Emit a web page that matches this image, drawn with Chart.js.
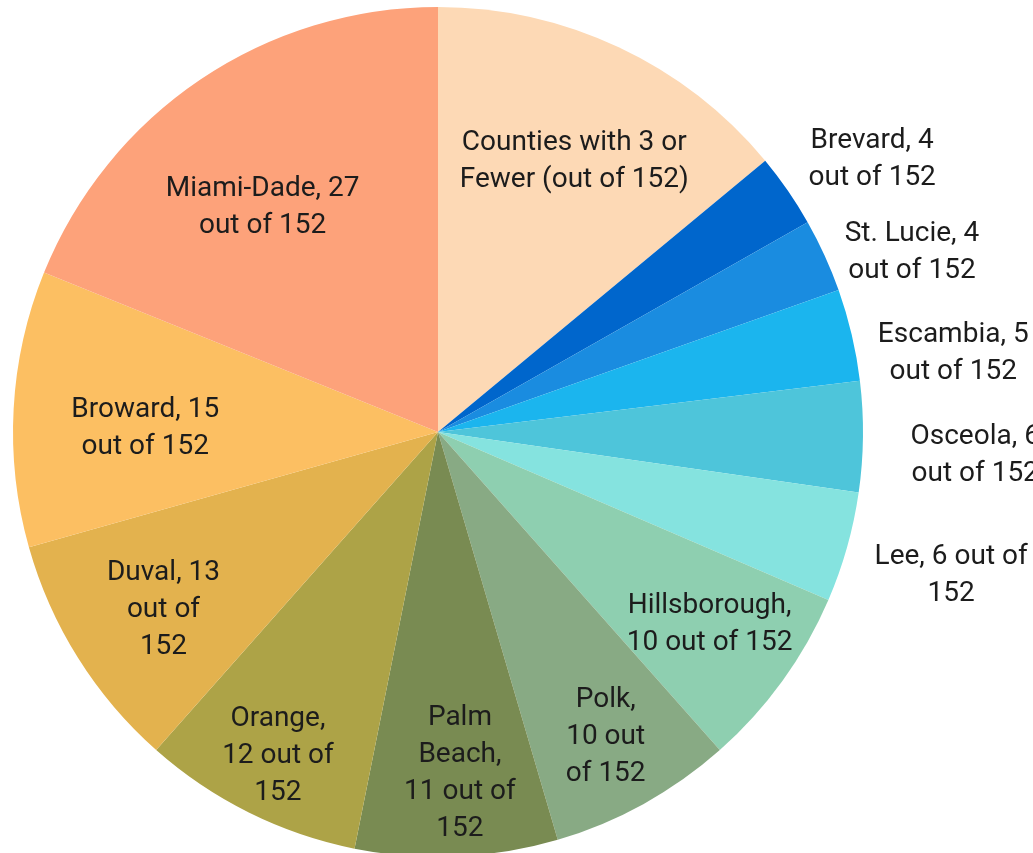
<!DOCTYPE html>
<html>
<head>
<meta charset="utf-8">
<script src="https://cdn.jsdelivr.net/npm/chart.js@4"></script>
<style>
    html, body { margin: 0; padding: 0; background: #fff; overflow: hidden; }
    #wrap { position: relative; width: 1033px; height: 857px; }
</style>
</head>
<body>
<div id="wrap"><canvas id="pieChart"></canvas></div>
<script>
// slices, clockwise from 12 o'clock
const counties = ['Counties with 3 or Fewer', 'Brevard', 'St. Lucie', 'Escambia', 'Osceola', 'Lee',
    'Hillsborough', 'Polk', 'Palm Beach', 'Orange', 'Duval', 'Broward', 'Miami-Dade'];
const counts = [20, 4, 4, 5, 6, 6, 10, 10, 11, 12, 13, 15, 27];
const labelLines = [
    ['Counties with 3 or', 'Fewer (out of 152)'],
    ['Brevard, 4', 'out of 152'],
    ['St. Lucie, 4', 'out of 152'],
    ['Escambia, 5', 'out of 152'],
    ['Osceola, 6', 'out of 152'],
    ['Lee, 6 out of', '152'],
    ['Hillsborough,', '10 out of 152'],
    ['Polk,', '10 out', 'of 152'],
    ['Palm', 'Beach,', '11 out of', '152'],
    ['Orange,', '12 out of', '152'],
    ['Duval, 13', 'out of', '152'],
    ['Broward, 15', 'out of 152'],
    ['Miami-Dade, 27', 'out of 152']
];

// styling
const sliceColors = ['#fdd9b5', '#0066cc', '#1a8ce0', '#1bb5ee', '#4ec5da', '#85e3df',
    '#8ecfb0', '#88aa84', '#798b52', '#ada347', '#e3b24e', '#fcbf62', '#fda27a'];
const labelDist = [0.715, 1.207, 1.195, 1.226, 1.264, 1.252, 0.78, 0.815, 0.8, 0.846, 0.768, 0.69, 0.675];
const labelNudge = [[7, 3], [12, 17], [12, 29], [8, 39], [0, 16], [1, -3], [3, -4], [0, 0], [7, 0], [0, 0], [2, 3], [0, 11], [-15, 11]];

const sliceLabels = {
    id: 'sliceLabels',
    afterDatasetsDraw(chart) {
        const ctx = chart.ctx;
        const meta = chart.getDatasetMeta(0);
        ctx.save();
        ctx.font = '28px Roboto';
        ctx.fillStyle = '#1c1c1c';
        ctx.textAlign = 'center';
        ctx.textBaseline = 'middle';
        const lh = 37;
        meta.data.forEach(function (arc, i) {
            const p = arc.getProps(['x', 'y', 'startAngle', 'endAngle', 'outerRadius'], true);
            const mid = (p.startAngle + p.endAngle) / 2;
            const d = p.outerRadius * labelDist[i];
            const cx = p.x + Math.cos(mid) * d + labelNudge[i][0];
            const cy = p.y + Math.sin(mid) * d + labelNudge[i][1] + 2;
            const lines = labelLines[i];
            const top = cy - (lines.length - 1) * lh / 2;
            lines.forEach(function (t, k) {
                ctx.fillText(t, cx, top + k * lh);
            });
        });
        ctx.restore();
    }
};

new Chart(document.getElementById('pieChart').getContext('2d'), {
    type: 'pie',
    data: {
        labels: counties,
        datasets: [{
            data: counts,
            backgroundColor: sliceColors,
            borderWidth: 0
        }]
    },
    options: {
        responsive: true,
        maintainAspectRatio: false,
        animation: false,
        layout: { padding: { top: 7, left: 13, right: 170, bottom: 0 } },
        plugins: { legend: { display: false }, tooltip: { enabled: false } }
    },
    plugins: [sliceLabels]
});
</script>
</body>
</html>
